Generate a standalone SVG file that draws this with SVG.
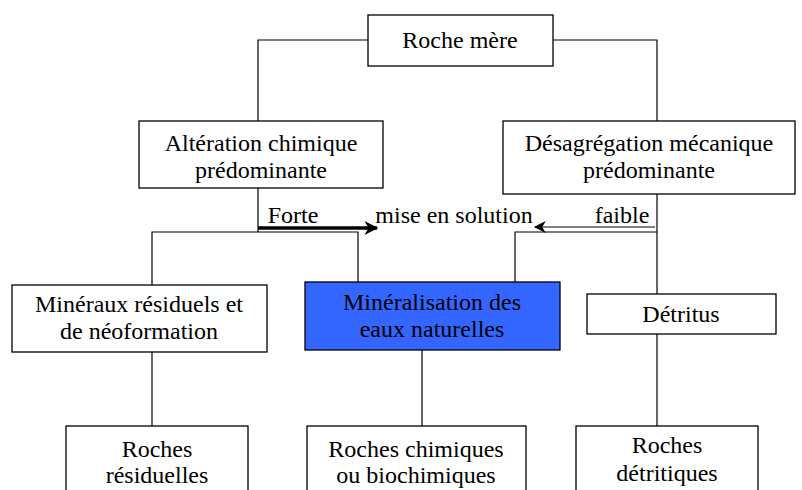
<svg xmlns="http://www.w3.org/2000/svg" width="802" height="490" viewBox="0 0 802 490">
<style>
.box{fill:#fff;stroke:#000;stroke-width:1.3}
.blue{fill:#3366ff;stroke:#000;stroke-width:1.3}
text{font-family:'Liberation Serif','Times New Roman',Times,Tinos,'Noto Serif','DejaVu Serif',FreeSerif,serif;font-size:24px;fill:#000;text-anchor:middle}
.c{fill:none;stroke:#000;stroke-width:1.2}
</style>
<defs>
<marker id="ah" viewBox="0 0 10 10" refX="9" refY="5" markerWidth="13" markerHeight="12" markerUnits="userSpaceOnUse" orient="auto">
<path d="M0,0 L10,5 L0,10 L3,5 Z" fill="#000"/>
</marker>
<marker id="ahb" viewBox="0 0 10 10" refX="9" refY="5" markerWidth="15" markerHeight="14" markerUnits="userSpaceOnUse" orient="auto">
<path d="M0,0 L10,5 L0,10 L3,5 Z" fill="#000"/>
</marker>
</defs>
<rect width="802" height="490" fill="#fff"/>
<g id="connectors">
<path class="c" d="M368,40 H258 V124"/>
<path class="c" d="M552,40 H657 V124"/>
<path class="c" d="M258,184 V232"/>
<path class="c" d="M152,288 V232 H358 V282"/>
<path d="M258,228 H377" stroke="#000" stroke-width="3.5" fill="none" marker-end="url(#ahb)"/>
<path d="M655,227 H535" stroke="#000" stroke-width="1.2" fill="none" marker-end="url(#ah)"/>
<path class="c" d="M657,190 V298"/>
<path class="c" d="M657,232 H515 V282"/>
<path class="c" d="M152,348 V426"/>
<path class="c" d="M422,349 V426"/>
<path class="c" d="M657,330 V426"/>
</g>
<g id="roche-mere"><rect class="box" x="368" y="15" width="185" height="51"/><text x="460" y="48">Roche mère</text></g>
<g id="alteration"><rect class="box" x="139" y="121" width="244" height="67"/><text x="261" y="151">Altération chimique</text><text x="261" y="178">prédominante</text></g>
<g id="desagregation"><rect class="box" x="503" y="121" width="292" height="73"/><text x="649" y="151">Désagrégation  mécanique</text><text x="649" y="178">prédominante</text></g>
<g id="label-forte"><text x="293" y="223">Forte</text></g>
<g id="label-mise"><text x="454" y="223">mise en solution</text></g>
<g id="label-faible"><text x="622" y="223">faible</text></g>
<g id="mineraux"><rect class="box" x="12" y="285" width="255" height="67"/><text x="139" y="312">Minéraux résiduels et</text><text x="139" y="339">de néoformation</text></g>
<g id="mineralisation"><rect class="blue" x="305" y="282" width="255" height="68"/><text x="432" y="310">Minéralisation des</text><text x="432" y="337">eaux naturelles</text></g>
<g id="detritus"><rect class="box" x="587" y="294" width="189" height="40"/><text x="681" y="322">Détritus</text></g>
<g id="roches-residuelles"><rect class="box" x="66" y="426" width="182" height="70"/><text x="157" y="457">Roches</text><text x="157" y="483">résiduelles</text></g>
<g id="roches-chimiques"><rect class="box" x="307" y="426" width="219" height="70"/><text x="416" y="457">Roches chimiques</text><text x="416" y="483">ou biochimiques</text></g>
<g id="roches-detritiques"><rect class="box" x="576" y="426" width="182" height="70"/><text x="667" y="453">Roches</text><text x="667" y="481">détritiques</text></g>
</svg>
